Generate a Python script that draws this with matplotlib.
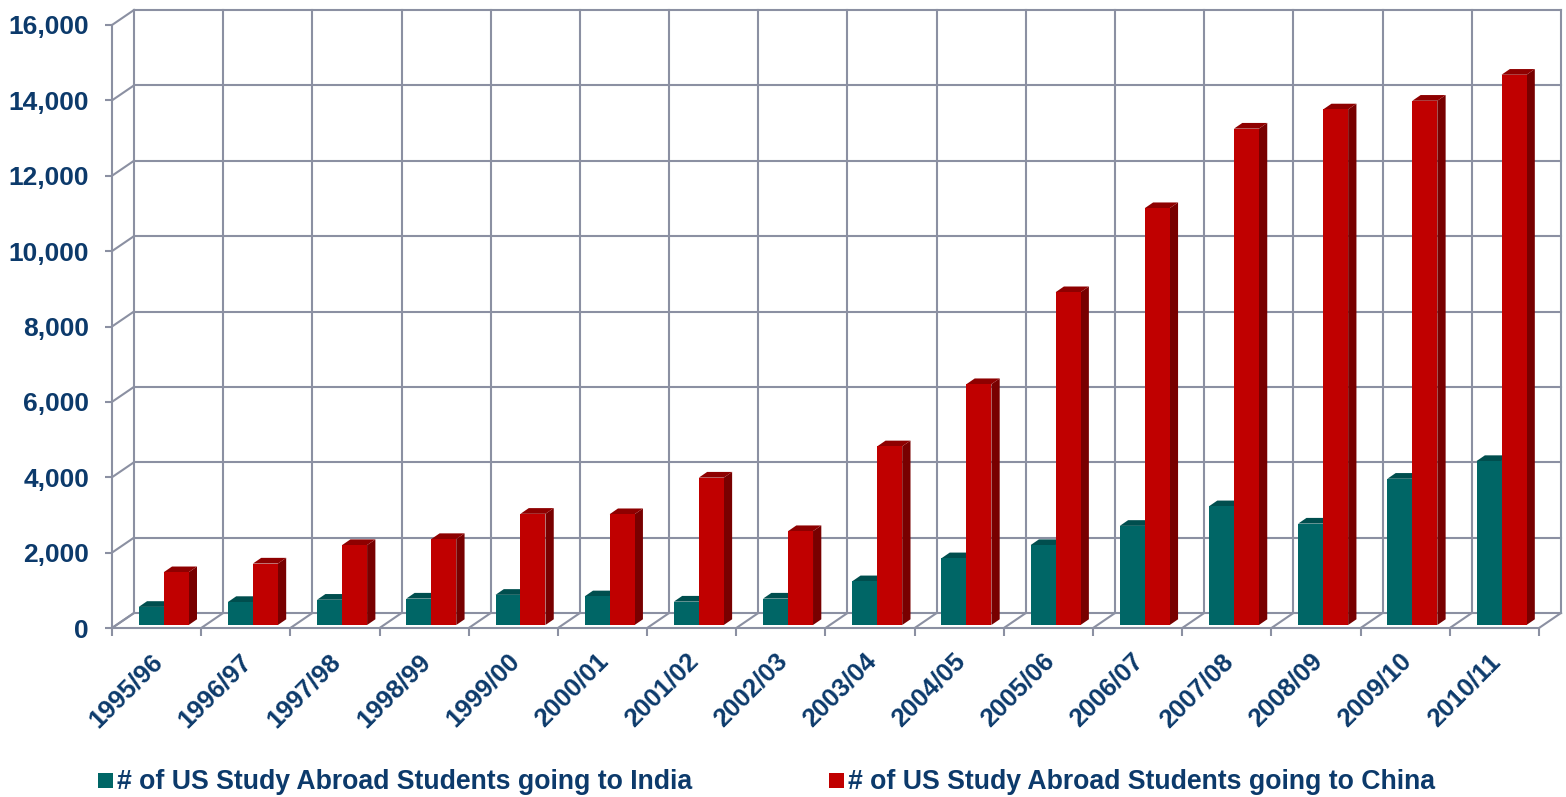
import matplotlib.pyplot as plt
from matplotlib.patches import Polygon, Rectangle
import numpy as np

plt.rcParams['font.family'] = ['Liberation Sans', 'DejaVu Sans']

# data
years = ['1995/96', '1996/97', '1997/98', '1998/99', '1999/00', '2000/01',
         '2001/02', '2002/03', '2003/04', '2004/05', '2005/06', '2006/07',
         '2007/08', '2008/09', '2009/10', '2010/11']
india = [480, 610, 670, 700, 800, 760, 620, 700, 1160, 1770, 2120, 2630,
         3150, 2690, 3880, 4350]
china = [1400, 1630, 2120, 2280, 2950, 2940, 3910, 2490, 4740, 6390, 8830,
         11060, 13170, 13680, 13910, 14600]
yticks = list(range(0, 16001, 2000))

india_label = '# of US Study Abroad Students going to India'
china_label = '# of US Study Abroad Students going to China'

navy = '#0C3A6B'
grid_c = '#8B90A2'
india_cols = ('#006666', '#004E4E', '#003F3F')   # front, top, side
china_cols = ('#C00000', '#8E0000', '#780000')

W, H = 1566, 797
fig = plt.figure(figsize=(W / 100, H / 100), dpi=100)

# place axes so the front plane lands where the reference has it
px_x0, px_x1 = 112, 1539
px_y0, px_y1 = 628, 25
n = len(years)
sx = (px_x1 - px_x0) / n
sy = (px_y0 - px_y1) / 16000
xlim = (-0.8, n - 0.2)
ylim = (-200, 16650)
left = px_x0 + (xlim[0] + 0.5) * sx
right = px_x0 + (xlim[1] + 0.5) * sx
bottom = px_y0 - ylim[0] * sy
top = px_y0 - ylim[1] * sy
ax = fig.add_axes([left / W, 1 - bottom / H, (right - left) / W, (bottom - top) / H])
ax.set_xlim(*xlim)
ax.set_ylim(*ylim)

# depth of the back wall (data units)
dx, dy = 22 / sx, 15 / sy
lw = 1.5
x0, x1 = -0.5, n - 0.5
bounds = np.arange(n + 1) - 0.5

# back wall + side wall + floor
for v in yticks:
    ax.plot([x0 + dx, x1 + dx], [v + dy, v + dy], color=grid_c, lw=lw, zorder=1)
    ax.plot([x0, x0 + dx], [v, v + dy], color=grid_c, lw=lw, zorder=1)
for b in bounds:
    ax.plot([b + dx, b + dx], [dy, yticks[-1] + dy], color=grid_c, lw=lw, zorder=1)
    ax.plot([b, b + dx], [0, dy], color=grid_c, lw=lw, zorder=1)

# bars
bw = 0.28
bx, by = 0.08, 80          # bar plane behind the front edge
ex, ey = 8.3 / sx, 5.7 / sy  # bar extrusion
x = np.arange(n)


def bar3d(xs, vals, cols):
    for xi, v in zip(xs, vals):
        xl, xr = xi + bx, xi + bx + bw
        t = v + by
        ax.add_patch(Polygon([(xr, by), (xr, t), (xr + ex, t + ey), (xr + ex, by + ey)],
                             closed=True, facecolor=cols[2], edgecolor='none', zorder=3))
        ax.add_patch(Polygon([(xl, t), (xr, t), (xr + ex, t + ey), (xl + ex, t + ey)],
                             closed=True, facecolor=cols[1], edgecolor='none', zorder=3))
        ax.bar(xl, v, width=bw, bottom=by, align='edge', color=cols[0], zorder=3)


for i in range(n):
    bar3d([x[i] - bw], [india[i]], india_cols)
    bar3d([x[i]], [china[i]], china_cols)

# front axes
for s in ['top', 'right']:
    ax.spines[s].set_visible(False)
ax.spines['left'].set_position(('data', x0))
ax.spines['left'].set_bounds(0, yticks[-1])
ax.spines['bottom'].set_position(('data', 0))
ax.spines['bottom'].set_bounds(x0, x1)
for s in ['left', 'bottom']:
    ax.spines[s].set_color(grid_c)
    ax.spines[s].set_linewidth(lw)
    ax.spines[s].set_zorder(2)

ax.set_yticks(yticks)
ax.set_yticklabels([f'{v:,}' for v in yticks], fontsize=19, fontweight='bold', color=navy)
ax.tick_params(axis='y', length=5, width=lw, color=grid_c, pad=11.5)
ax.set_xticks(bounds)
ax.set_xticklabels([])
ax.tick_params(axis='x', length=6, width=lw, color=grid_c)

for i, yr in enumerate(years):
    ax.text(i - 0.07, -560, yr, rotation=45, rotation_mode='anchor', ha='right', va='top',
            fontsize=18.5, fontweight='bold', color=navy)

# legend
for lx, lab, col in [(98, india_label, india_cols[0]), (829, china_label, china_cols[0])]:
    fig.patches.append(Rectangle((lx / W, 1 - 788 / H), 15 / W, 15 / H,
                                 transform=fig.transFigure, facecolor=col, edgecolor='none'))
    fig.text((lx + 19) / W, 1 - 789 / H, lab, fontsize=19.2, fontweight='bold',
             color=navy, va='baseline')

fig.savefig('out.png', dpi=100)
